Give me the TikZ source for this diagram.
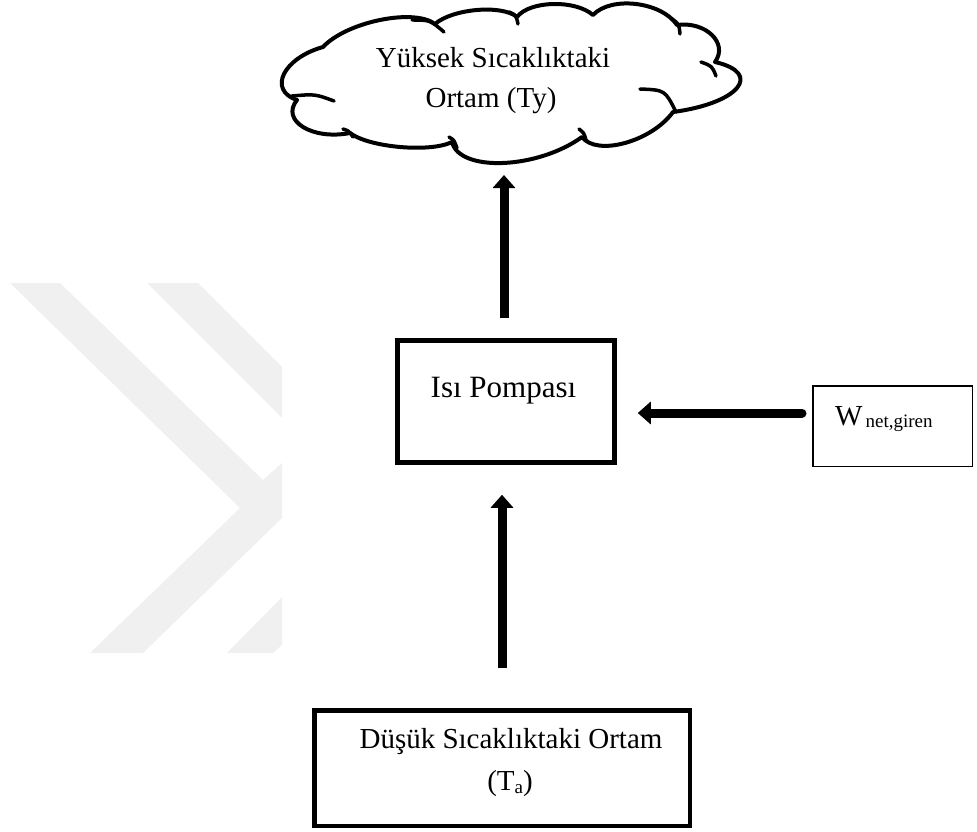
\documentclass[tikz,border=0pt]{standalone}
\usepackage{fontspec}
\setmainfont{Liberation Serif}
\newfontfamily\labelfont{Liberation Serif}
\usetikzlibrary{arrows.meta,calc}

\begin{document}
\begin{tikzpicture}[x=1pt,y=-1pt,
  % one scalloped lobe of the cloud from #1 to #2 bulging through #3
  lobe/.style n args={3}{insert path={
    .. controls ($(#1)!0.2!(#2) + 1.3333*(#3) - 0.6667*(#1) - 0.6667*(#2)$)
       and ($(#2)!0.2!(#1) + 1.3333*(#3) - 0.6667*(#1) - 0.6667*(#2)$) .. (#2)}},
  thickbox/.style={draw=black, line width=4.5pt, fill=white, inner sep=0pt},
  thinbox/.style={draw=black, line width=1.5pt, fill=white, inner sep=0pt},
  txt/.style={font=\labelfont\fontsize{29}{36}\selectfont, inner sep=0pt, anchor=base},
  flow/.style={line width=9pt, -{Triangle[width=22pt,length=13pt]}},
  chevron/.style={fill=black!6, draw=none},
  crease/.style={line width=3.5pt, line cap=round},
]
\useasboundingbox (0,0) rectangle (977,832);

% faint chevrons in the background
\fill[chevron] (10,283) -- (60,283) -- (263,480) -- (282,463) -- (282,518)
  -- (143,653) -- (90,653) -- (240,508) -- cycle;
\fill[chevron] (147,283) -- (198,283) -- (282,367) -- (282,418) -- cycle;
\fill[chevron] (227,653) -- (273,653) -- (282,645) -- (282,597) -- cycle;

% cloud: junctions between lobes and the bulge point of every lobe
\coordinate (J1) at (323,47);  \coordinate (J2) at (435,24);
\coordinate (J3) at (517,17);  \coordinate (J4) at (593,15);
\coordinate (J5) at (677,25);  \coordinate (J6) at (715,62);
\coordinate (J7) at (673,112); \coordinate (J8) at (582,137);
\coordinate (J9) at (452,142); \coordinate (J10) at (350,133);
\coordinate (J11) at (297,100);
\coordinate (P1) at (380,20);  \coordinate (P2) at (477,10);
\coordinate (P3) at (553,4);   \coordinate (P4) at (636,4);
\coordinate (P5) at (712,35);  \coordinate (P6) at (737,88);
\coordinate (P7) at (625,143); \coordinate (P8) at (503,163);
\coordinate (P9) at (400,147); \coordinate (P10) at (303,127);
\coordinate (P11) at (284,74);

\draw[line width=4pt, fill=white, line join=round] (J1)
  [lobe={J1}{J2}{P1}] [lobe={J2}{J3}{P2}] [lobe={J3}{J4}{P3}]
  [lobe={J4}{J5}{P4}] [lobe={J5}{J6}{P5}] [lobe={J6}{J7}{P6}]
  [lobe={J7}{J8}{P7}] [lobe={J8}{J9}{P8}] [lobe={J9}{J10}{P9}]
  [lobe={J10}{J11}{P10}] [lobe={J11}{J1}{P11}] -- cycle;

% creases where the puffs overlap
\draw[crease] (412,20) .. controls (430,20) .. (444,32);
\draw[crease] (509,12) .. controls (516,15) .. (518,24);
\draw[crease] (672,19) .. controls (679,24) .. (680,34);
\draw[crease] (701,62) .. controls (712,66) .. (716,76);
\draw[crease] (640,89) .. controls (665,90) .. (676,112);
\draw[crease] (579,129) .. controls (584,133) .. (586,140);
\draw[crease] (449,137) .. controls (454,140) .. (457,148);
\draw[crease] (343,129) .. controls (349,131) .. (353,137);
\draw[crease] (292,96) .. controls (315,94) .. (334,101);
\coordinate (cloudbot) at (504,163);

\node[txt] (hot1) at (493,68) {Yüksek Sıcaklıktaki};
\node[txt] (hot2) at (491,108) {Ortam (Ty)};

% boxes
\node[thickbox, minimum width=217pt, minimum height=122pt] (pump) at (506,401.5) {};
\node[txt, font=\labelfont\fontsize{31}{36}\selectfont] (pumptxt) at (503.5,397) {Isı Pompası};

\node[thinbox, minimum width=159.5pt, minimum height=80.5pt] (wbox) at (892.5,426) {};
\node[txt, anchor=base west] (wtxt) at (835,425)
  {W\hspace{3pt}\raisebox{-2pt}{\fontsize{19}{22}\selectfont net,giren}};

\node[thickbox, minimum width=375.5pt, minimum height=115.5pt] (cold) at (502,768) {};
\node[txt] (cold1) at (511,748) {Düşük Sıcaklıktaki Ortam};
\node[txt] (cold2) at (510,790) {(T\raisebox{-3pt}{\fontsize{19}{22}\selectfont a})};

% heat and work flows
\draw[flow, shorten <=20pt, shorten >=12pt] (pump.north -| cloudbot) -- (cloudbot);
\draw[flow, shorten <=40pt, shorten >=30pt] (cold.north) -- (pump.south -| cold.north);
\draw[flow, shorten <=10pt, shorten >=21pt, line cap=round]
  ([yshift=13pt]wbox.west) -- ([yshift=13pt]wbox.west -| pump.east);
\end{tikzpicture}
\end{document}
